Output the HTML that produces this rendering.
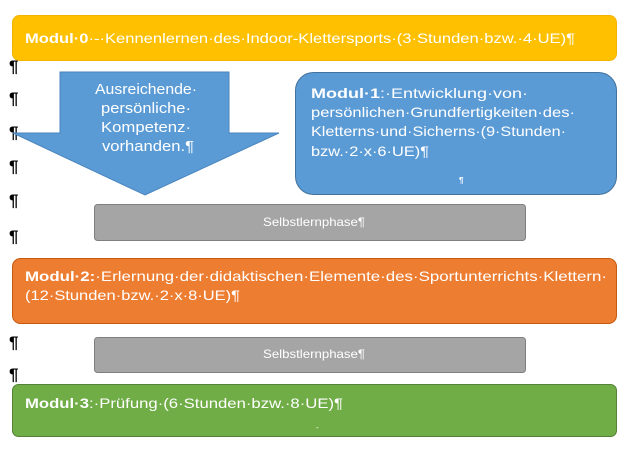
<!DOCTYPE html>
<html><head><meta charset="utf-8"><style>
html,body{margin:0;padding:0;background:#fff;width:635px;height:456px;overflow:hidden}
svg{display:block}
text{font-family:"Liberation Sans",sans-serif;fill:#fff}
.p{fill:#000;font-size:17px;font-weight:bold}
</style></head><body>
<svg width="635" height="456" viewBox="0 0 635 456">
<text class="p" x="9" y="72">¶</text>
<text class="p" x="9" y="104">¶</text>
<text class="p" x="9" y="138">¶</text>
<text class="p" x="9" y="172">¶</text>
<text class="p" x="9" y="206">¶</text>
<text class="p" x="9" y="242">¶</text>
<text class="p" x="9" y="348">¶</text>
<text class="p" x="9" y="380">¶</text>

<rect x="12.5" y="15.5" width="604" height="45" rx="7" fill="#ffc000" stroke="#f0b400"/>
<text x="25" y="43" font-size="14" textLength="550" lengthAdjust="spacingAndGlyphs"><tspan font-weight="bold">Modul·0</tspan>·-·Kennenlernen·des·Indoor-Klettersports·(3·Stunden·bzw.·4·UE)¶</text>

<polygon points="60,72 229,72 229,133 279,133 145,195 13,133 60,133" fill="#5b9bd5" stroke="#4a86be"/>
<text x="146" y="94" font-size="15" text-anchor="middle" textLength="102" lengthAdjust="spacingAndGlyphs">Ausreichende·</text>
<text x="146" y="113" font-size="15" text-anchor="middle" textLength="90" lengthAdjust="spacingAndGlyphs">persönliche·</text>
<text x="146" y="132" font-size="15" text-anchor="middle" textLength="90" lengthAdjust="spacingAndGlyphs">Kompetenz·</text>
<text x="148" y="151" font-size="15" text-anchor="middle" textLength="92" lengthAdjust="spacingAndGlyphs">vorhanden.¶</text>

<rect x="295.5" y="72.5" width="321" height="122" rx="18" fill="#5b9bd5" stroke="#41719c"/>
<text x="311" y="98" font-size="14" textLength="217" lengthAdjust="spacingAndGlyphs"><tspan font-weight="bold">Modul·1</tspan>:·Entwicklung·von·</text>
<text x="311" y="117" font-size="14" textLength="264" lengthAdjust="spacingAndGlyphs">persönlichen·Grundfertigkeiten·des·</text>
<text x="311" y="136" font-size="14" textLength="255" lengthAdjust="spacingAndGlyphs">Kletterns·und·Sicherns·(9·Stunden·</text>
<text x="311" y="156" font-size="14" textLength="118" lengthAdjust="spacingAndGlyphs">bzw.·2·x·6·UE)¶</text>
<text x="459" y="183" font-size="8" font-weight="bold">¶</text>

<rect x="94.5" y="204.5" width="431" height="36" rx="3" fill="#a5a5a5" stroke="#7f7f7f"/>
<text x="314" y="226" font-size="12" text-anchor="middle" textLength="102" lengthAdjust="spacingAndGlyphs">Selbstlernphase¶</text>

<rect x="12.5" y="258.5" width="604" height="65" rx="8" fill="#ed7d31" stroke="#c55a11"/>
<text x="25" y="281" font-size="14" textLength="582" lengthAdjust="spacingAndGlyphs"><tspan font-weight="bold">Modul·2:</tspan>·Erlernung·der·didaktischen·Elemente·des·Sportunterrichts·Klettern·</text>
<text x="25" y="300" font-size="14" textLength="215" lengthAdjust="spacingAndGlyphs">(12·Stunden·bzw.·2·x·8·UE)¶</text>

<rect x="94.5" y="337.5" width="431" height="35" rx="3" fill="#a5a5a5" stroke="#7f7f7f"/>
<text x="314" y="358" font-size="12" text-anchor="middle" textLength="102" lengthAdjust="spacingAndGlyphs">Selbstlernphase¶</text>

<rect x="12.5" y="384.5" width="604" height="52" rx="6" fill="#70ad47" stroke="#538135"/>
<text x="25" y="408" font-size="14" textLength="318" lengthAdjust="spacingAndGlyphs"><tspan font-weight="bold">Modul·3</tspan>:·Prüfung·(6·Stunden·bzw.·8·UE)¶</text>
<text x="316" y="430" font-size="8">-</text>
</svg>
</body></html>
